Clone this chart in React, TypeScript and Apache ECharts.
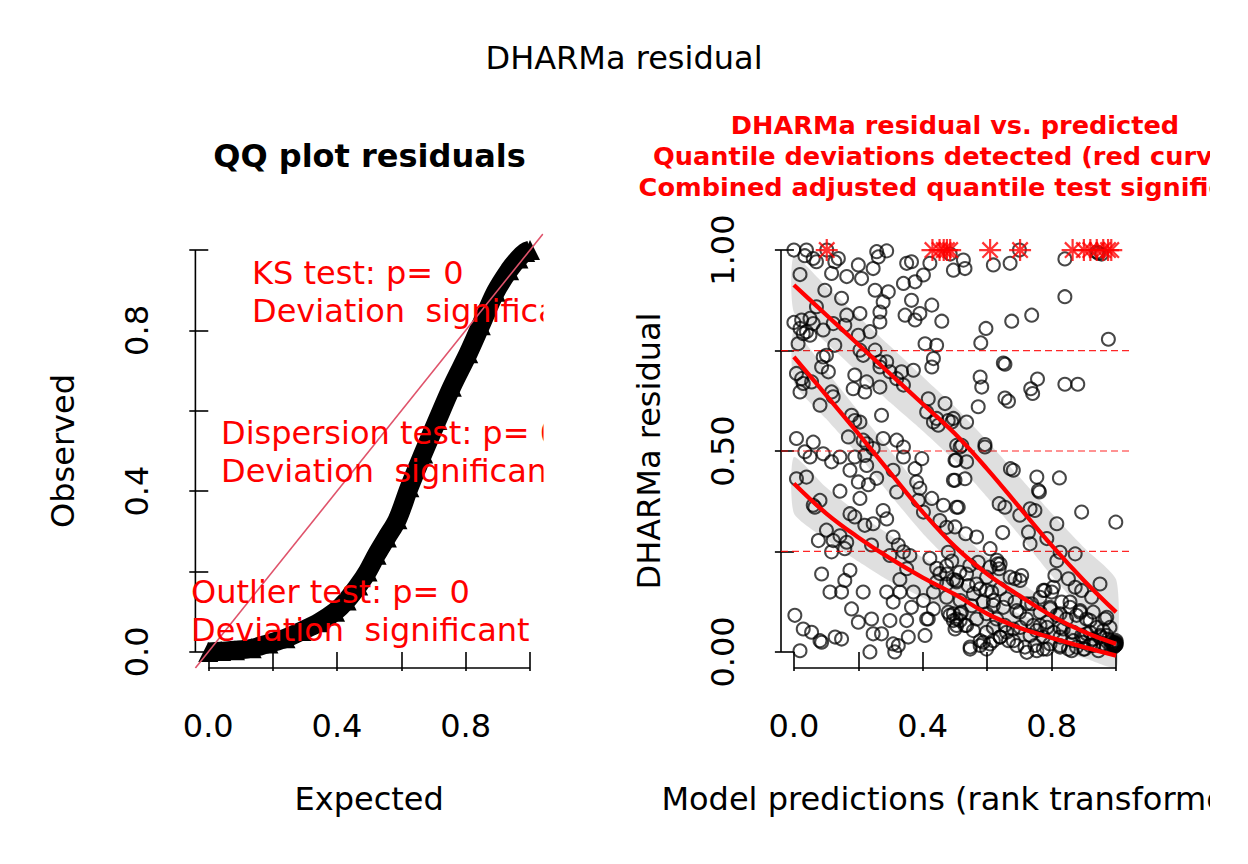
import React, { useEffect, useRef } from "react";
import * as echarts from "echarts";

const FONT = '"DejaVu Sans"';

// ---------- Left panel: QQ plot ----------
const qqExpected = [0.0, 0.04, 0.083, 0.135, 0.187, 0.24, 0.29, 0.345, 0.394, 0.43, 0.466, 0.495, 0.523, 0.555, 0.588, 0.625, 0.668, 0.712, 0.757, 0.808, 0.847, 0.893, 0.935, 0.964, 0.985, 1.0];
const qqObserved = [0.0, 0.002, 0.004, 0.009, 0.021, 0.034, 0.052, 0.074, 0.1, 0.128, 0.165, 0.2, 0.242, 0.285, 0.33, 0.41, 0.494, 0.577, 0.66, 0.743, 0.813, 0.896, 0.95, 0.979, 0.995, 1.0];
const qqTicks = [0, 0.2, 0.4, 0.6, 0.8, 1.0];
const qqTickLabels = [0, 0.4, 0.8];
const qqTestTexts = [
  ["KS test: p= 0", "Deviation  significant"],
  ["Dispersion test: p= 0", "Deviation  significant"],
  ["Outlier test: p= 0", "Deviation  significant"],
];

// ---------- Right panel: residual vs predicted ----------
const resXTicks = [0, 0.2, 0.4, 0.6, 0.8, 1.0];
const resXTickLabels = [0, 0.4, 0.8];
const resYTicks = [0, 0.25, 0.5, 0.75, 1.0];
const resYTickLabels = [0, 0.5, 1.0];
const quantileLevels = [0.25, 0.5, 0.75];

const curveX = [0, 0.1, 0.2, 0.3, 0.4, 0.5, 0.6, 0.7, 0.8, 0.9, 1.0];
const upperQ = [0.913, 0.839, 0.765, 0.691, 0.617, 0.543, 0.455, 0.36, 0.265, 0.178, 0.099];
const middleQ = [0.734, 0.639, 0.543, 0.445, 0.348, 0.262, 0.194, 0.14, 0.09, 0.05, 0.02];
const lowerQ = [0.419, 0.345, 0.285, 0.232, 0.185, 0.143, 0.095, 0.06, 0.035, 0.012, -0.009];
const upperHi = [0.985, 0.91, 0.835, 0.76, 0.685, 0.61, 0.525, 0.435, 0.345, 0.26, 0.18];
const upperLo = [0.845, 0.77, 0.695, 0.62, 0.55, 0.475, 0.385, 0.29, 0.19, 0.1, 0.02];
const middleHi = [0.8, 0.7, 0.6, 0.5, 0.4, 0.31, 0.235, 0.175, 0.12, 0.075, 0.035];
const middleLo = [0.67, 0.58, 0.49, 0.39, 0.295, 0.215, 0.155, 0.105, 0.065, 0.03, 0.0];
const lowerHi = [0.485, 0.41, 0.345, 0.29, 0.235, 0.19, 0.135, 0.095, 0.065, 0.04, 0.02];
const lowerLo = [0.345, 0.28, 0.225, 0.175, 0.135, 0.095, 0.05, 0.025, 0.005, -0.015, -0.04];

const outlierX = [0.102, 0.43, 0.452, 0.465, 0.475, 0.485, 0.609, 0.702, 0.865, 0.9, 0.92, 0.94, 0.96, 0.975, 0.985];
const outlierY = 1.0;

const residualPoints: number[][] = [
  [0.0, 1.0], [0.039, 1.0], [0.034, 0.986], [0.06, 0.979], [0.07, 0.971], [0.138, 0.979], [0.127, 0.971], [0.117, 0.942], [0.019, 0.939], [0.096, 0.9],
  [0.164, 0.934], [0.2, 0.963], [0.21, 0.929], [0.246, 0.954], [0.257, 0.996], [0.288, 0.998], [0.262, 0.983], [0.252, 0.9], [0.293, 0.896], [0.277, 0.871],
  [0.267, 0.846], [0.35, 0.967], [0.365, 0.971], [0.34, 0.917], [0.376, 0.921], [0.402, 0.938], [0.422, 0.967], [0.365, 0.875], [0.345, 0.838], [0.376, 0.826],
  [0.391, 0.842], [0.428, 0.863], [0.459, 0.823], [0.495, 0.95], [0.148, 0.88], [0.07, 0.859], [0.205, 0.842], [0.164, 0.838], [0.158, 0.813], [0.122, 0.817],
  [0.091, 0.801], [0.0, 0.82], [0.024, 0.826], [0.05, 0.83], [0.06, 0.817], [0.019, 0.805], [0.039, 0.797], [0.05, 0.788], [0.029, 0.792], [0.013, 0.767],
  [0.127, 0.763], [0.236, 0.797], [0.2, 0.788], [0.267, 0.821], [0.407, 0.767], [0.443, 0.763], [0.433, 0.73], [0.428, 0.709], [0.101, 0.738], [0.091, 0.734],
  [0.086, 0.709], [0.107, 0.697], [0.008, 0.693], [0.024, 0.68], [0.029, 0.668], [0.055, 0.672], [0.019, 0.647], [0.189, 0.689], [0.226, 0.672], [0.184, 0.655],
  [0.22, 0.647], [0.267, 0.659], [0.117, 0.647], [0.122, 0.635], [0.081, 0.614], [0.205, 0.751], [0.215, 0.738], [0.252, 0.751], [0.267, 0.722], [0.267, 0.709],
  [0.288, 0.722], [0.298, 0.697], [0.319, 0.68], [0.334, 0.697], [0.34, 0.664], [0.371, 0.701], [0.417, 0.63], [0.412, 0.597], [0.469, 0.618], [0.443, 0.581],
  [0.433, 0.572], [0.448, 0.564], [0.479, 0.576], [0.495, 0.581], [0.272, 0.589], [0.179, 0.589], [0.189, 0.576], [0.205, 0.572], [0.169, 0.535], [0.215, 0.527],
  [0.226, 0.518], [0.008, 0.531], [0.06, 0.522], [0.277, 0.531], [0.319, 0.527], [0.34, 0.51], [0.505, 0.514],
  [0.102, 1.0], [0.485, 0.99], [0.94, 0.995], [0.955, 0.99],
  [0.526, 0.975], [0.531, 0.954], [0.619, 0.963], [0.671, 0.967], [0.7, 1.0], [0.841, 0.978], [0.945, 0.992], [0.841, 0.884], [0.738, 0.838], [0.676, 0.823],
  [0.596, 0.805], [0.58, 0.769], [0.976, 0.778], [0.65, 0.719], [0.655, 0.716], [0.578, 0.684], [0.583, 0.659], [0.756, 0.679], [0.735, 0.655], [0.741, 0.643],
  [0.841, 0.666], [0.881, 0.666], [0.655, 0.632], [0.666, 0.624], [0.572, 0.61], [0.536, 0.572], [0.593, 0.516], [0.521, 0.514], [0.49, 0.572],
  [0.034, 0.498], [0.05, 0.485], [0.091, 0.493], [0.117, 0.473], [0.143, 0.485], [0.189, 0.485], [0.22, 0.489], [0.226, 0.464], [0.246, 0.506], [0.174, 0.452],
  [0.2, 0.423], [0.231, 0.416], [0.257, 0.432], [0.205, 0.382], [0.143, 0.4], [0.008, 0.431], [0.039, 0.435], [0.065, 0.36], [0.081, 0.377], [0.06, 0.365],
  [0.308, 0.452], [0.34, 0.485], [0.319, 0.398], [0.376, 0.456], [0.397, 0.481], [0.381, 0.423], [0.391, 0.407], [0.386, 0.377], [0.402, 0.348], [0.428, 0.382],
  [0.464, 0.365], [0.5, 0.477], [0.495, 0.427], [0.505, 0.36], [0.453, 0.327], [0.474, 0.31], [0.174, 0.344], [0.189, 0.336], [0.22, 0.315], [0.246, 0.319],
  [0.277, 0.352], [0.288, 0.331], [0.101, 0.303], [0.076, 0.277], [0.122, 0.277], [0.143, 0.289], [0.164, 0.273], [0.158, 0.257], [0.117, 0.249], [0.241, 0.266],
  [0.308, 0.286], [0.324, 0.266], [0.34, 0.249], [0.36, 0.24], [0.298, 0.24], [0.422, 0.233], [0.443, 0.208], [0.479, 0.248], [0.474, 0.214], [0.49, 0.226],
  [0.495, 0.18], [0.35, 0.207], [0.329, 0.18], [0.086, 0.194], [0.174, 0.203], [0.158, 0.178], [0.112, 0.149], [0.148, 0.149], [0.215, 0.149], [0.288, 0.149],
  [0.308, 0.124], [0.329, 0.149], [0.371, 0.149], [0.365, 0.111], [0.402, 0.128], [0.412, 0.082], [0.433, 0.107], [0.179, 0.107], [0.2, 0.074], [0.241, 0.082],
  [0.298, 0.078], [0.35, 0.078], [0.003, 0.091], [0.029, 0.057], [0.055, 0.049], [0.081, 0.028], [0.086, 0.024], [0.128, 0.037], [0.148, 0.032], [0.019, 0.003],
  [0.236, 0.0], [0.246, 0.045], [0.272, 0.045], [0.308, 0.02], [0.324, 0.016], [0.313, 0.0], [0.355, 0.037], [0.407, 0.041], [0.417, 0.082], [0.484, 0.091],
  [0.495, 0.078], [0.505, 0.066], [0.5, 0.057], [0.479, 0.099], [0.516, 0.095], [0.453, 0.195], [0.443, 0.174], [0.474, 0.169], [0.433, 0.149],
  [0.516, 0.51], [0.593, 0.51], [0.503, 0.477], [0.536, 0.473], [0.5, 0.427], [0.531, 0.431], [0.51, 0.36], [0.672, 0.456], [0.681, 0.452], [0.754, 0.435],
  [0.824, 0.433], [0.759, 0.402], [0.762, 0.398], [0.637, 0.369], [0.655, 0.36], [0.701, 0.34], [0.733, 0.356], [0.748, 0.352], [0.728, 0.298], [0.733, 0.269],
  [0.648, 0.297], [0.816, 0.319], [0.785, 0.282], [0.893, 0.348], [0.999, 0.323], [0.5, 0.311], [0.533, 0.294], [0.567, 0.286], [0.609, 0.257], [0.873, 0.244],
  [0.816, 0.227], [0.826, 0.248], [0.81, 0.19], [0.852, 0.182], [0.873, 0.161], [0.893, 0.153], [0.95, 0.169], [0.924, 0.136], [0.857, 0.124], [0.888, 0.103],
  [0.966, 0.082], [0.94, 0.061], [0.779, 0.153], [0.8, 0.149], [0.738, 0.12], [0.764, 0.099], [0.816, 0.091], [0.707, 0.19], [0.686, 0.182], [0.632, 0.219],
  [0.637, 0.207], [0.63, 0.228], [0.598, 0.186], [0.572, 0.223], [0.546, 0.215], [0.515, 0.198], [0.505, 0.174], [0.541, 0.165], [0.578, 0.157], [0.614, 0.149],
  [0.64, 0.157], [0.66, 0.132], [0.686, 0.124], [0.7, 0.099], [0.722, 0.082], [0.619, 0.116], [0.588, 0.124], [0.552, 0.115], [0.52, 0.099], [0.505, 0.082],
  [0.531, 0.066], [0.567, 0.082], [0.598, 0.095], [0.629, 0.082], [0.655, 0.066], [0.681, 0.057], [0.547, 0.012], [0.578, 0.016], [0.598, 0.007], [0.588, 0.024],
  [0.619, 0.028], [0.64, 0.037], [0.666, 0.028], [0.692, 0.016], [0.717, 0.012], [0.748, 0.016], [0.774, 0.007], [0.795, 0.02], [0.826, 0.016], [0.852, 0.007],
  [0.877, 0.012], [0.903, 0.007], [0.919, 0.016], [0.945, 0.003], [0.97, 0.012], [0.986, 0.016], [0.997, 0.02], [1.0, 0.024], [0.753, 0.053], [0.786, 0.061],
  [0.806, 0.049], [0.836, 0.057], [0.862, 0.049], [0.893, 0.041], [0.919, 0.049], [0.95, 0.041], [0.975, 0.032], [0.96, 0.053], [0.733, 0.041], [0.774, 0.037],
  [0.826, 0.037], [0.867, 0.028], [0.898, 0.024], [0.929, 0.032], [0.764, 0.066], [0.846, 0.082], [0.795, 0.107], [0.831, 0.124], [0.877, 0.091], [0.908, 0.082],
  [0.929, 0.099],
  [0.547, 0.007], [0.578, 0.028], [0.609, 0.02], [0.64, 0.037], [0.681, 0.028], [0.723, -0.001], [0.754, 0.003], [0.785, 0.007], [0.826, 0.012], [0.862, 0.003],
  [0.899, 0.007], [0.93, 0.016], [0.96, 0.02], [0.992, 0.024], [0.997, 0.016], [1.0, 0.02], [0.495, 0.095], [0.516, 0.078], [0.536, 0.066], [0.557, 0.053],
  [0.598, 0.049], [0.619, 0.061], [0.66, 0.049], [0.702, 0.061], [0.743, 0.066], [0.785, 0.074], [0.826, 0.061], [0.867, 0.049], [0.909, 0.045], [0.95, 0.037],
  [0.971, 0.041], [0.981, 0.061], [0.971, 0.086], [0.474, 0.136], [0.516, 0.128], [0.557, 0.145], [0.598, 0.153], [0.619, 0.128], [0.65, 0.111], [0.692, 0.103],
  [0.723, 0.12], [0.764, 0.136], [0.795, 0.111], [0.826, 0.095], [0.857, 0.111], [0.888, 0.099], [0.919, 0.078], [0.474, 0.194], [0.505, 0.178], [0.536, 0.194],
  [0.567, 0.169], [0.609, 0.211], [0.64, 0.219], [0.671, 0.186], [0.702, 0.178], [0.774, 0.153], [0.805, 0.161],
  [1.0, 0.018], [0.998, 0.022], [0.995, 0.015], [1.0, 0.028], [0.99, 0.02], [0.985, 0.025], [0.993, 0.012],
];

const titleMain = "DHARMa residual";
const titleQQ = "QQ plot residuals";
const titleRes = [
  "DHARMa residual vs. predicted",
  "Quantile deviations detected (red curves)",
  "Combined adjusted quantile test significant",
];

const LO = -0.04;
const HI = 1.04;

function makeXAxis(gridIndex: number, name: string, ticks: number[], labels: number[], digits: number, namePad: number[]) {
  return {
    type: "value",
    gridIndex,
    min: LO,
    max: HI,
    name,
    nameLocation: "middle",
    nameGap: 115,
    nameTextStyle: { fontFamily: FONT, fontSize: 32, color: "#000", padding: namePad },
    axisLine: { show: false },
    splitLine: { show: false },
    axisTick: { show: true, inside: false, length: 19, customValues: ticks, lineStyle: { color: "#000", width: 1.6 } },
    axisLabel: {
      show: true,
      customValues: labels,
      margin: 42,
      fontFamily: FONT,
      fontSize: 32,
      color: "#000",
      formatter: (v: number) => v.toFixed(digits),
    },
  };
}

function makeYAxis(gridIndex: number, name: string, ticks: number[], labels: number[], digits: number) {
  return {
    type: "value",
    gridIndex,
    min: LO,
    max: HI,
    name,
    nameLocation: "middle",
    nameGap: 116,
    nameTextStyle: { fontFamily: FONT, fontSize: 32, color: "#000" },
    axisLine: { show: false },
    splitLine: { show: false },
    axisTick: { show: true, inside: false, length: 19, customValues: ticks, lineStyle: { color: "#000", width: 1.6 } },
    axisLabel: {
      show: true,
      customValues: labels,
      rotate: 90,
      margin: 42,
      fontFamily: FONT,
      fontSize: 32,
      color: "#000",
      formatter: (v: number) => v.toFixed(digits),
    },
  };
}

function axisLineSeries(idx: number, data: number[][]) {
  return {
    type: "line",
    xAxisIndex: idx,
    yAxisIndex: idx,
    data,
    symbol: "none",
    silent: true,
    clip: false,
    lineStyle: { color: "#000", width: 1.6 },
    z: 1,
  };
}

function bandSeries(hi: number[], lo: number[]) {
  return {
    type: "custom",
    xAxisIndex: 1,
    yAxisIndex: 1,
    data: [[0.5, 0.5]],
    silent: true,
    z: 4,
    renderItem: (_params: any, api: any) => {
      const top = curveX.map((x, i) => api.coord([x, hi[i]]));
      const bottom = curveX.map((x, i) => api.coord([x, lo[i]])).reverse();
      return {
        type: "polygon",
        shape: { points: top.concat(bottom), smooth: 0.2 },
        style: { fill: "rgba(0,0,0,0.125)" },
      };
    },
  };
}

function curveSeries(values: number[]) {
  return {
    type: "line",
    xAxisIndex: 1,
    yAxisIndex: 1,
    data: curveX.map((x, i) => [x, values[i]]),
    smooth: 0.4,
    symbol: "none",
    silent: true,
    lineStyle: { color: "#FF0000", width: 4.3 },
    z: 5,
  };
}

function textEl(text: string, x: number, y: number, font: string, fill: string, align: string) {
  return {
    type: "text",
    x,
    y,
    z: 50,
    silent: true,
    style: {
      text,
      font,
      fill,
      align,
      verticalAlign: "middle",
      textAlign: align,
      textVerticalAlign: "middle",
    },
  };
}

export default function App() {
  const ref = useRef<HTMLDivElement>(null);

  useEffect(() => {
    if (!ref.current) return;
    const chart = echarts.init(ref.current, null, { renderer: "svg" });

    const qqTextPos = [
      [252, 273],
      [221, 433],
      [191, 592],
    ];
    const graphic: any[] = [
      textEl(titleMain, 624, 58, `32px ${FONT}`, "#000", "center"),
      textEl(titleQQ, 369.5, 156, `bold 32px ${FONT}`, "#000", "center"),
    ];
    titleRes.forEach((t, i) => {
      graphic.push(textEl(t, 955, 125 + i * 31, `bold 25.6px ${FONT}`, "#FF0000", "center"));
    });
    qqTestTexts.forEach((lines, k) => {
      lines.forEach((t, j) => {
        graphic.push(textEl(t, qqTextPos[k][0], qqTextPos[k][1] + j * 38.4, `32px ${FONT}`, "#FF0000", "left"));
      });
    });
    // clipping masks (plot-region / figure-region clipping as in the original)
    graphic.push({ type: "rect", z: 100, silent: true, shape: { x: 543.5, y: 225, width: 70, height: 450 }, style: { fill: "#fff" } });
    graphic.push({ type: "rect", z: 100, silent: true, shape: { x: 1210, y: 0, width: 40, height: 864 }, style: { fill: "#fff" } });

    const option: any = {
      animation: false,
      backgroundColor: "#fff",
      grid: [
        { left: 195.4, top: 234, width: 347.5, height: 434, outerBoundsMode: "none", containLabel: false },
        { left: 781, top: 234, width: 348, height: 434, outerBoundsMode: "none", containLabel: false },
      ],
      xAxis: [
        makeXAxis(0, "Expected", qqTicks, qqTickLabels, 1, [0, 0, 0, 0]),
        makeXAxis(1, "Model predictions (rank transformed)", resXTicks, resXTickLabels, 1, [0, 0, 0, 10]),
      ],
      yAxis: [
        makeYAxis(0, "Observed", qqTicks, qqTickLabels, 1),
        makeYAxis(1, "DHARMa residual", resYTicks, resYTickLabels, 2),
      ],
      graphic: { elements: graphic },
      series: [
        axisLineSeries(0, [[qqTicks[0], LO], [qqTicks[qqTicks.length - 1], LO]]),
        axisLineSeries(0, [[LO, qqTicks[0]], [LO, qqTicks[qqTicks.length - 1]]]),
        axisLineSeries(1, [[resXTicks[0], LO], [resXTicks[resXTicks.length - 1], LO]]),
        axisLineSeries(1, [[LO, resYTicks[0]], [LO, resYTicks[resYTicks.length - 1]]]),
        // QQ points (dense band of open triangles)
        {
          type: "line",
          xAxisIndex: 0,
          yAxisIndex: 0,
          data: qqExpected.map((x, i) => [x, qqObserved[i]]),
          smooth: 0.35,
          showSymbol: true,
          symbol: "triangle",
          symbolSize: 20,
          itemStyle: { color: "#000" },
          lineStyle: { color: "#000", width: 19, join: "round" },
          silent: true,
          z: 2,
        },
        // QQ reference line
        {
          type: "line",
          xAxisIndex: 0,
          yAxisIndex: 0,
          data: [[LO, LO], [HI, HI]],
          symbol: "none",
          silent: true,
          lineStyle: { color: "#DF536B", width: 1.6 },
          z: 3,
        },
        // residual points
        {
          type: "scatter",
          xAxisIndex: 1,
          yAxisIndex: 1,
          data: residualPoints,
          symbol: "circle",
          symbolSize: 13,
          silent: true,
          itemStyle: { color: "rgba(0,0,0,0)", borderColor: "rgba(0,0,0,0.9)", borderWidth: 2 },
          z: 2,
        },
        // quantile reference lines
        ...quantileLevels.map((q) => ({
          type: "line",
          xAxisIndex: 1,
          yAxisIndex: 1,
          data: [[LO, q], [HI, q]],
          symbol: "none",
          silent: true,
          lineStyle: { color: "rgba(255,0,0,0.85)", width: 1.2, type: [7, 4] },
          z: 3,
        })),
        bandSeries(upperHi, upperLo),
        bandSeries(middleHi, middleLo),
        bandSeries(lowerHi, lowerLo),
        curveSeries(upperQ),
        curveSeries(middleQ),
        curveSeries(lowerQ),
        // outliers
        {
          type: "scatter",
          xAxisIndex: 1,
          yAxisIndex: 1,
          data: outlierX.map((x) => [x, outlierY]),
          symbol: "path://M10 0 L10 20 M0 10 L20 10 M3 3 L17 17 M3 17 L17 3",
          symbolSize: 22,
          silent: true,
          itemStyle: { color: "none", borderColor: "#FF0000", borderWidth: 2.2 },
          z: 6,
        },
      ],
    };
    chart.setOption(option);
    return () => chart.dispose();
  }, []);

  return (
    <div
      ref={ref}
      style={{ position: "absolute", left: 0, top: 0, width: 1248, height: 864, background: "#fff" }}
    />
  );
}
